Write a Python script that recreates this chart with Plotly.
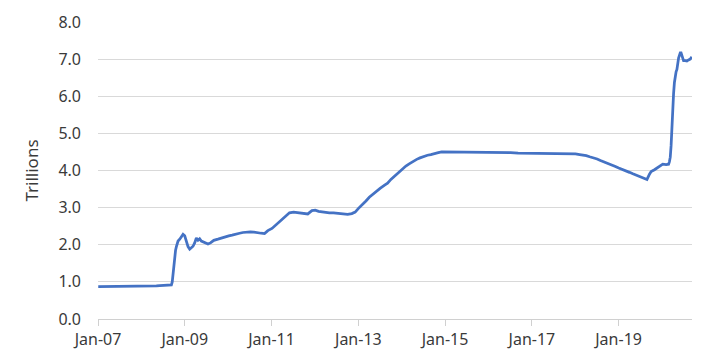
import plotly.graph_objects as go

dates = [
    "2007-01-03","2007-02-07","2007-03-07","2007-04-04","2007-05-02","2007-06-06","2007-07-04","2007-08-01",
    "2007-09-05","2007-10-03","2007-11-07","2007-12-05",
    "2008-01-02","2008-02-06","2008-03-05","2008-04-02","2008-05-07","2008-06-04","2008-07-02","2008-08-06",
    "2008-09-03","2008-09-10","2008-09-17","2008-09-24","2008-10-01","2008-10-08","2008-10-15","2008-10-22",
    "2008-10-29","2008-11-05","2008-11-19","2008-12-03","2008-12-17","2008-12-31",
    "2009-01-14","2009-01-28","2009-02-11","2009-02-25","2009-03-11","2009-03-25","2009-04-08","2009-04-22",
    "2009-05-06","2009-05-20","2009-06-03","2009-06-17","2009-07-01","2009-07-15","2009-08-05","2009-09-02",
    "2009-10-07","2009-11-04","2009-12-02",
    "2010-01-06","2010-02-03","2010-03-03","2010-04-07","2010-05-05","2010-06-02","2010-07-07","2010-08-04",
    "2010-09-01","2010-10-06","2010-11-03","2010-12-01",
    "2011-01-05","2011-02-02","2011-03-02","2011-04-06","2011-05-04","2011-06-01","2011-07-06","2011-08-03",
    "2011-09-07","2011-10-05","2011-11-02","2011-12-07",
    "2012-01-04","2012-02-01","2012-03-07","2012-04-04","2012-05-02","2012-06-06","2012-07-04","2012-08-01",
    "2012-09-05","2012-10-03","2012-11-07","2012-12-05",
    "2013-01-02","2013-02-06","2013-03-06","2013-04-03","2013-05-01","2013-06-05","2013-07-03","2013-08-07",
    "2013-09-04","2013-10-02","2013-11-06","2013-12-04",
    "2014-01-01","2014-02-05","2014-03-05","2014-04-02","2014-05-07","2014-06-04","2014-07-02","2014-08-06",
    "2014-09-03","2014-10-01","2014-11-05","2014-12-03",
    "2015-01-07","2015-03-04","2015-05-06","2015-07-01","2015-09-02","2015-11-04",
    "2016-01-06","2016-03-02","2016-05-04","2016-07-06","2016-09-07","2016-11-02",
    "2017-01-04","2017-03-01","2017-05-03","2017-07-05","2017-09-06","2017-11-01",
    "2018-01-03","2018-02-07","2018-03-07","2018-04-04","2018-05-02","2018-06-06","2018-07-04","2018-08-01",
    "2018-09-05","2018-10-03","2018-11-07","2018-12-05",
    "2019-01-02","2019-02-06","2019-03-06","2019-04-03","2019-05-01","2019-06-05","2019-07-03","2019-08-07",
    "2019-08-28","2019-09-18","2019-10-02","2019-10-30","2019-11-20","2019-12-18",
    "2020-01-08","2020-02-05","2020-02-26","2020-03-04","2020-03-11","2020-03-18","2020-03-25","2020-04-01",
    "2020-04-08","2020-04-15","2020-04-22","2020-04-29","2020-05-06","2020-05-13","2020-05-20","2020-05-27",
    "2020-06-03","2020-06-10","2020-06-17","2020-06-24","2020-07-01","2020-07-15","2020-07-29","2020-08-12",
    "2020-08-26","2020-09-09",
]

trillions = [
    0.87,0.87,0.88,0.87,0.87,0.88,0.88,0.87,
    0.88,0.88,0.89,0.89,
    0.89,0.89,0.89,0.89,0.89,0.90,0.90,0.90,
    0.91,0.92,1.00,1.20,1.50,1.75,1.85,1.95,
    2.05,2.10,2.15,2.22,2.28,2.24,
    2.08,1.95,1.88,1.92,1.96,2.05,2.18,2.12,
    2.16,2.10,2.08,2.06,2.04,2.02,2.05,2.12,
    2.15,2.18,2.22,
    2.24,2.26,2.29,2.31,2.33,2.34,2.35,2.34,
    2.32,2.31,2.30,2.38,
    2.44,2.52,2.62,2.70,2.78,2.86,2.88,2.87,
    2.86,2.86,2.83,2.92,
    2.93,2.90,2.88,2.87,2.86,2.86,2.85,2.84,
    2.82,2.82,2.84,2.88,
    2.98,3.08,3.18,3.28,3.36,3.44,3.52,3.60,
    3.66,3.76,3.86,3.96,
    4.04,4.12,4.18,4.24,4.30,4.34,4.38,4.41,
    4.43,4.46,4.48,4.50,
    4.50,4.49,4.49,4.49,4.49,4.49,
    4.49,4.49,4.48,4.48,4.47,4.47,
    4.47,4.47,4.47,4.47,4.46,4.46,
    4.45,4.43,4.42,4.40,4.37,4.34,4.31,4.27,
    4.23,4.19,4.15,4.11,
    4.07,4.03,3.98,3.95,3.91,3.87,3.83,3.78,
    3.76,3.90,3.97,4.02,4.07,4.13,
    4.17,4.16,4.17,4.24,4.36,4.67,5.25,5.83,
    6.08,6.37,6.57,6.66,6.72,6.93,7.03,7.10,
    7.17,7.17,7.08,7.02,6.96,6.96,6.95,6.98,
    7.00,7.06,
]

x_range = ["2007-01-01", "2020-09-10"]
y_tickvals = [0, 1, 2, 3, 4, 5, 6, 7, 8]
y_ticktext = ["0.0", "1.0", "2.0", "3.0", "4.0", "5.0", "6.0", "7.0", "8.0"]
y_title = "Trillions"

fig = go.Figure(
    go.Scatter(
        x=dates, y=trillions, mode="lines",
        line=dict(color="#4472C4", width=2.75),
        hoverinfo="skip",
    )
)

font_family = "Noto Sans"
text_color = "#3a3a3a"
fig.update_layout(
    width=703, height=361,
    margin=dict(l=98, r=11, t=16, b=40),
    paper_bgcolor="white", plot_bgcolor="white",
    showlegend=False,
    font=dict(family=font_family, size=16, color=text_color),
)
fig.update_xaxes(
    type="date", range=x_range,
    tick0="2007-01-01", dtick="M24", tickformat="%b-%y",
    showgrid=False, showline=True, linecolor="#d0d0d0", linewidth=1,
    ticks="outside", ticklen=6, tickcolor="#d0d0d0", tickwidth=1,
    tickfont=dict(size=16, color=text_color),
    zeroline=False,
)
fig.update_yaxes(
    range=[0, 8], tickvals=y_tickvals, ticktext=y_ticktext,
    showgrid=True, gridcolor="#d9d9d9", gridwidth=1,
    showline=False, zeroline=False, ticks="",
    ticklabelstandoff=16,
    tickfont=dict(size=16, color=text_color),
    title=dict(text=y_title, font=dict(size=17, color=text_color), standoff=15),
)

fig.write_html("out.html")
